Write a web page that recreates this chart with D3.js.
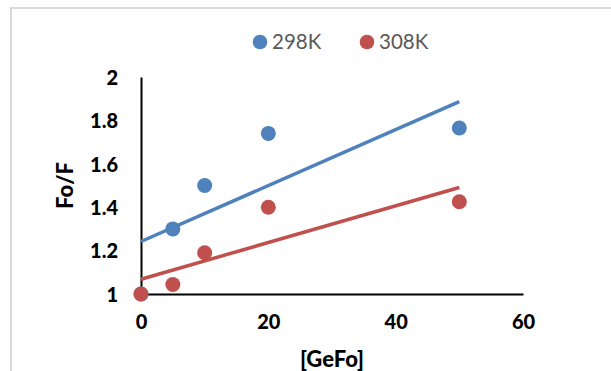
<!DOCTYPE html>
<html>
<head>
<meta charset="utf-8">
<script src="https://cdn.jsdelivr.net/npm/d3@7"></script>
<style>
  body { margin: 0; background: #fff; }
  svg { display: block; font-family: Lato, "Open Sans", sans-serif; }
</style>
</head>
<body>
<script>
// data
var concentration = [0, 5, 10, 20, 50]
var fo298 = [1.0, 1.30, 1.50, 1.74, 1.765]
var fo308 = [1.0, 1.044, 1.19, 1.40, 1.425]
var seriesNames = ["298K", "308K"]
var seriesColors = ["#4F81BD", "#C0504D"]
var xTicks = [0, 20, 40, 60]
var yTicks = [1, 1.2, 1.4, 1.6, 1.8, 2]

var width = 611, height = 371
var margin = {top: 77, right: 88, bottom: 77, left: 141}

var svg = d3.select("body").append("svg")
    .attr("width", width)
    .attr("height", height)

// frame of the chart area (only left and top edges are in view)
svg.append("path")
    .attr("d", "M11," + height + "V8H" + width)
    .attr("fill", "none")
    .attr("stroke", "#d9d9d9")
    .attr("stroke-width", 2)

var x = d3.scaleLinear().domain([0, 60]).range([margin.left, width - margin.right])
var y = d3.scaleLinear().domain([1, 2]).range([height - margin.bottom, margin.top])

// axes
var xAxis = d3.axisBottom(x).tickValues(xTicks).tickSize(0).tickSizeOuter(0).tickPadding(24)
var yAxis = d3.axisLeft(y).tickValues(yTicks).tickSize(0).tickSizeOuter(0).tickPadding(23)
    .tickFormat(function(d) { return d3.format("")(+d.toFixed(1)) })

var gx = svg.append("g")
    .attr("transform", "translate(0," + y(1) + ")")
    .call(xAxis)
var gy = svg.append("g")
    .attr("transform", "translate(" + x(0) + ",0)")
    .call(yAxis)

;[gx, gy].forEach(function(g) {
    g.select(".domain").attr("stroke", "#000").attr("stroke-width", 2)
    g.selectAll("text")
        .attr("fill", "#000")
        .style("font-size", "20px")
        .style("font-weight", "900")
        .style("font-family", "Lato, sans-serif")
})
gx.selectAll("text").attr("dy", "0.55em")
gy.selectAll("text").attr("dy", "0.36em")

// axis titles
svg.append("text")
    .attr("x", (x(0) + x(60)) / 2)
    .attr("y", 367)
    .attr("text-anchor", "middle")
    .style("font-size", "22px")
    .style("font-weight", "900")
    .text("[GeFo]")

svg.append("text")
    .attr("transform", "translate(73," + ((y(1) + y(2)) / 2) + ") rotate(-90)")
    .attr("text-anchor", "middle")
    .style("font-size", "22px")
    .style("font-weight", "900")
    .text("Fo/F")

// least squares trend line
function fit(xs, ys) {
    var mx = d3.mean(xs), my = d3.mean(ys)
    var sxy = d3.sum(xs, function(v, i) { return (v - mx) * (ys[i] - my) })
    var sxx = d3.sum(xs, function(v) { return (v - mx) * (v - mx) })
    var slope = sxy / sxx
    return {slope: slope, intercept: my - slope * mx}
}

var series = [fo298, fo308]
var line = d3.line()
    .x(function(d) { return x(d[0]) })
    .y(function(d) { return y(d[1]) })

series.forEach(function(vals, s) {
    var f = fit(concentration, vals)
    var ext = d3.extent(concentration)
    var pts = ext.map(function(v) { return [v, f.intercept + f.slope * v] })
    svg.append("path")
        .attr("d", line(pts))
        .attr("fill", "none")
        .attr("stroke", seriesColors[s])
        .attr("stroke-width", 3.5)
})

series.forEach(function(vals, s) {
    svg.append("g").selectAll("circle")
        .data(vals)
        .enter().append("circle")
        .attr("cx", function(d, i) { return x(concentration[i]) })
        .attr("cy", function(d) { return y(d) })
        .attr("r", 7.5)
        .attr("fill", seriesColors[s])
})

// legend
var legendX = [260, 367]
var legend = svg.append("g")
seriesNames.forEach(function(name, i) {
    legend.append("circle")
        .attr("cx", legendX[i])
        .attr("cy", 42)
        .attr("r", 7.3)
        .attr("fill", seriesColors[i])
    legend.append("text")
        .attr("x", legendX[i] + 12)
        .attr("y", 49)
        .attr("fill", "#595959")
        .style("font-size", "20.5px")
        .text(name)
})
</script>
</body>
</html>
